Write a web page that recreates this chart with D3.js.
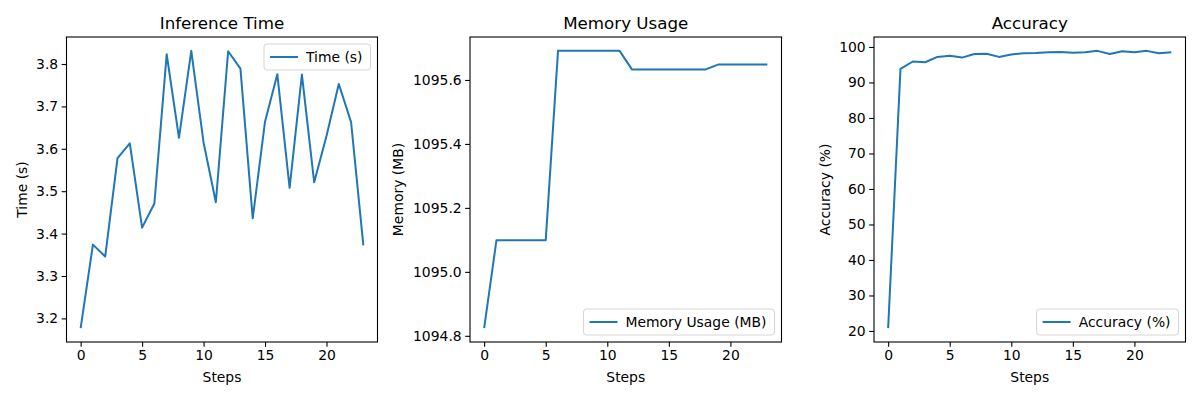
<!DOCTYPE html>
<html>
<head>
<meta charset="utf-8">
<script src="https://cdn.jsdelivr.net/npm/d3@7"></script>
<style>
  body { margin: 0; background: #fff; }
  text { font-family: "DejaVu Sans", sans-serif; fill: #000; }
</style>
</head>
<body>
<svg id="chart" width="1200" height="400"></svg>
<script>
// values
const steps = d3.range(24);
const timeValues = [3.177, 3.374, 3.346, 3.578, 3.613, 3.414, 3.471, 3.823, 3.626, 3.831,
  3.615, 3.474, 3.830, 3.789, 3.436, 3.664, 3.776, 3.508, 3.775, 3.521,
  3.630, 3.753, 3.663, 3.372];
const memoryValues = [1094.824, 1095.099, 1095.099, 1095.099, 1095.099, 1095.099,
  1095.691, 1095.691, 1095.691, 1095.691, 1095.691, 1095.691,
  1095.633, 1095.633, 1095.633, 1095.633, 1095.633, 1095.633, 1095.633,
  1095.648, 1095.648, 1095.648, 1095.648, 1095.648];
const accuracyValues = [20.8, 93.8, 95.9, 95.7, 97.2, 97.5, 97.0, 98.0, 98.1, 97.2,
  97.9, 98.2, 98.3, 98.5, 98.6, 98.4, 98.5, 98.9, 98.0, 98.8,
  98.5, 98.9, 98.2, 98.5];

const xTicks = [0, 5, 10, 15, 20];
const timeTicks = [3.2, 3.3, 3.4, 3.5, 3.6, 3.7, 3.8];
const memoryTicks = [1094.8, 1095.0, 1095.2, 1095.4, 1095.6];
const accuracyTicks = [20, 30, 40, 50, 60, 70, 80, 90, 100];

const svg = d3.select('#chart');
const color = '#1f77b4';
const plotTop = 37, plotBottom = 342;
const tick = 4.86;

const panels = [
  { left: 66.5, right: 377.5, title: 'Inference Time', ylabel: 'Time (s)', ylabelX: 22,
    values: timeValues, ticks: timeTicks, fmt: d3.format('.1f'), legend: 'Time (s)', legendPos: 'upper' },
  { left: 470, right: 781.5, title: 'Memory Usage', ylabel: 'Memory (MB)', ylabelX: 398,
    values: memoryValues, ticks: memoryTicks, fmt: d3.format('.1f'), legend: 'Memory Usage (MB)', legendPos: 'lower' },
  { left: 874, right: 1185.5, title: 'Accuracy', ylabel: 'Accuracy (%)', ylabelX: 825,
    values: accuracyValues, ticks: accuracyTicks, fmt: d3.format('d'), legend: 'Accuracy (%)', legendPos: 'lower' }
];

panels.forEach(p => {
  const xPad = (steps.length - 1) * 0.05;
  const x = d3.scaleLinear()
    .domain([-xPad, steps.length - 1 + xPad])
    .range([p.left, p.right]);

  const [lo, hi] = d3.extent(p.values);
  const yPad = (hi - lo) * 0.05;
  const y = d3.scaleLinear()
    .domain([lo - yPad, hi + yPad])
    .range([plotBottom, plotTop]);

  const g = svg.append('g');

  const line = d3.line()
    .x((d, i) => x(steps[i]))
    .y(d => y(d));

  g.append('path')
    .datum(p.values)
    .attr('fill', 'none')
    .attr('stroke', color)
    .attr('stroke-width', 2)
    .attr('stroke-linejoin', 'round')
    .attr('d', line);

  // frame
  g.append('rect')
    .attr('x', p.left)
    .attr('y', plotTop)
    .attr('width', p.right - p.left)
    .attr('height', plotBottom - plotTop)
    .attr('fill', 'none')
    .attr('stroke', '#000')
    .attr('stroke-width', 1.1);

  const xAxis = g.append('g')
    .attr('transform', `translate(0, ${plotBottom})`)
    .call(d3.axisBottom(x).tickValues(xTicks).tickSize(tick).tickPadding(3.5).tickFormat(d3.format('d')));
  const yAxis = g.append('g')
    .attr('transform', `translate(${p.left}, 0)`)
    .call(d3.axisLeft(y).tickValues(p.ticks).tickSize(tick).tickPadding(3.5).tickFormat(p.fmt));

  [xAxis, yAxis].forEach(a => {
    a.select('.domain').remove();
    a.selectAll('line').attr('stroke', '#000').attr('stroke-width', 1.1);
    a.selectAll('text').attr('font-size', '13.9px').attr('font-family', '"DejaVu Sans", sans-serif').attr('fill', '#000');
  });

  g.append('text')
    .attr('x', (p.left + p.right) / 2)
    .attr('y', 29)
    .attr('text-anchor', 'middle')
    .attr('font-size', '16.7px')
    .text(p.title);

  g.append('text')
    .attr('x', (p.left + p.right) / 2)
    .attr('y', 382)
    .attr('text-anchor', 'middle')
    .attr('font-size', '13.9px')
    .text('Steps');

  g.append('text')
    .attr('transform', `translate(${p.ylabelX}, ${(plotTop + plotBottom) / 2}) rotate(-90)`)
    .attr('text-anchor', 'middle')
    .attr('dy', '0.35em')
    .attr('font-size', '13.9px')
    .text(p.ylabel);

  // legend
  const lg = g.append('g');
  const box = lg.append('rect');
  const swatch = lg.append('line');
  const label = lg.append('text')
    .attr('font-size', '13.9px')
    .text(p.legend);
  const tw = label.node().getComputedTextLength();
  const boxW = tw + 50, boxH = 26;
  const bx = p.right - 7 - boxW;
  const by = p.legendPos === 'upper' ? plotTop + 7 : plotBottom - 7 - boxH;
  box.attr('x', bx).attr('y', by)
    .attr('width', boxW).attr('height', boxH)
    .attr('rx', 3)
    .attr('fill', 'rgba(255,255,255,0.8)')
    .attr('stroke', '#d6d6d6')
    .attr('stroke-width', 1);
  swatch.attr('x1', bx + 6).attr('x2', bx + 34)
    .attr('y1', by + boxH / 2).attr('y2', by + boxH / 2)
    .attr('stroke', color).attr('stroke-width', 2);
  label.attr('x', bx + 42).attr('y', by + boxH / 2).attr('dy', '0.35em');
});
</script>
</body>
</html>
